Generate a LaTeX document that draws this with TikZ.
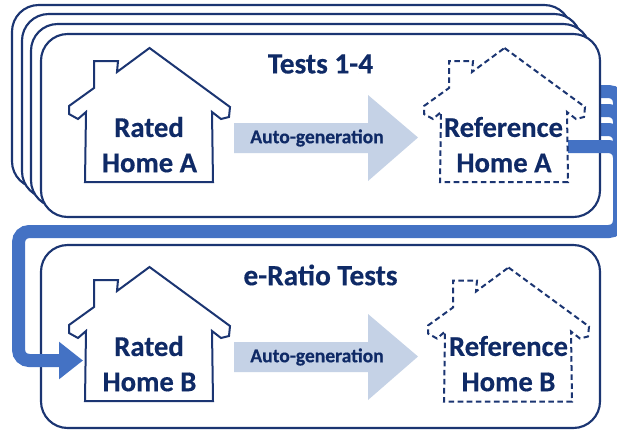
\documentclass[tikz,border=0pt]{standalone}
\usepackage{fontspec}
\usetikzlibrary{arrows.meta}
\setmainfont{Carlito}[BoldFeatures={FakeBold=0.4}]
\definecolor{navy}{HTML}{1B3572}
\definecolor{inkblue}{HTML}{0F2A66}
\definecolor{flow}{HTML}{4472C4}
\definecolor{pale}{HTML}{C5D2E6}
\tikzset{
 panel/.style={draw=navy,line width=1.6pt,fill=white,rounded corners=20pt},
 solidhouse/.style={draw=navy,line width=1.5pt,fill=white,line join=miter},
 dashhouse/.style={draw=navy,line width=1.5pt,fill=white,dash pattern=on 4.2pt off 2.6pt},
 homelabel/.style={text=inkblue,font=\bfseries\fontsize{21.5}{24}\selectfont,align=center,inner sep=0pt},
 titlelabel/.style={text=inkblue,font=\bfseries\fontsize{22}{24}\selectfont,inner sep=0pt},
 autolabel/.style={text=inkblue,font=\bfseries\fontsize{14.7}{16}\selectfont,inner sep=0pt},
 bigarrow/.style={fill=pale,draw=none},
 flowline/.style={draw=flow,line width=9.75pt,rounded corners=8pt}
}
\newcommand{\houseshape}{(149.5,48) -- (230,107) -- (229,117) -- (221,119) -- (212,112) -- (213,182) -- (85,182) -- (86,112) -- (78,119) -- (69,114) -- (69,106) -- (94,88) -- (94,61) -- (118,61) -- (117,72) -- cycle}
\newcommand{\bigarrowshape}{(234,123) -- (368,123) -- (368,95) -- (418,137.5) -- (368,181) -- (368,153) -- (234,153) -- cycle}
\begin{document}
\begin{tikzpicture}[x=0.75pt,y=-0.75pt]
\useasboundingbox (0,0) rectangle (617,430);
% named connector points
\coordinate (tabone) at (590,91.5);
\coordinate (tabtwo) at (590,110.5);
\coordinate (tabthree) at (590,129.5);
\coordinate (edgeone) at (619.5,91.5);
\coordinate (edgetwo) at (619.5,110.5);
\coordinate (edgethree) at (619.5,129.5);
\coordinate (edgedown) at (619.5,170);
\coordinate (cstart) at (568,146.5);
\coordinate (cright) at (619.5,146.5);
\coordinate (cbend) at (619.5,231.5);
\coordinate (cleft) at (18.5,231.5);
\coordinate (cdown) at (18.5,360.5);
\coordinate (ctip) at (83,360.5);
% connector tabs behind the stack
\draw[flowline] (tabone) -- (edgeone) -- (edgedown);
\draw[flowline] (tabtwo) -- (edgetwo) -- (edgedown);
\draw[flowline] (tabthree) -- (edgethree) -- (edgedown);
% stacked panels
\draw[panel] (12,5) rectangle (571,188);
\draw[panel] (22,14) rectangle (581,198);
\draw[panel] (31,24) rectangle (590,207);
\draw[panel] (41,34) rectangle (600,217);
\draw[panel] (41,245) rectangle (600,428);
% connector
\draw[flowline,-{Triangle[length=18pt,width=27pt]}] (cstart) -- (cright) -- (cbend) -- (cleft) -- (cdown) -- (ctip);
% top row
\path[bigarrow] \bigarrowshape;
\node[autolabel] (autoa) at (317,138) {Auto-generation};
\draw[solidhouse] \houseshape;
\begin{scope}[shift={(355,0)}]
\draw[dashhouse] \houseshape;
\end{scope}
\node[titlelabel] (tests) at (320.5,64) {Tests 1-4};
\node[homelabel] (rateda) at (149,127) {Rated};
\node[homelabel] (homea) at (149.5,163) {Home A};
\node[homelabel] (refa) at (503.5,127) {Reference};
\node[homelabel] (refha) at (504,163) {Home A};
% bottom row
\begin{scope}[shift={(0,219)}]
\path[bigarrow] \bigarrowshape;
\node[autolabel] (autob) at (317,138) {Auto-generation};
\draw[solidhouse] \houseshape;
\end{scope}
\begin{scope}[shift={(359,219.5)}]
\draw[dashhouse] \houseshape;
\end{scope}
\node[titlelabel] (eratio) at (320.5,275) {e-Ratio Tests};
\node[homelabel] (ratedb) at (149,346) {Rated};
\node[homelabel] (homeb) at (149.5,382) {Home B};
\node[homelabel] (refb) at (508.5,346) {Reference};
\node[homelabel] (refhb) at (508.5,382) {Home B};
\end{tikzpicture}
\end{document}
